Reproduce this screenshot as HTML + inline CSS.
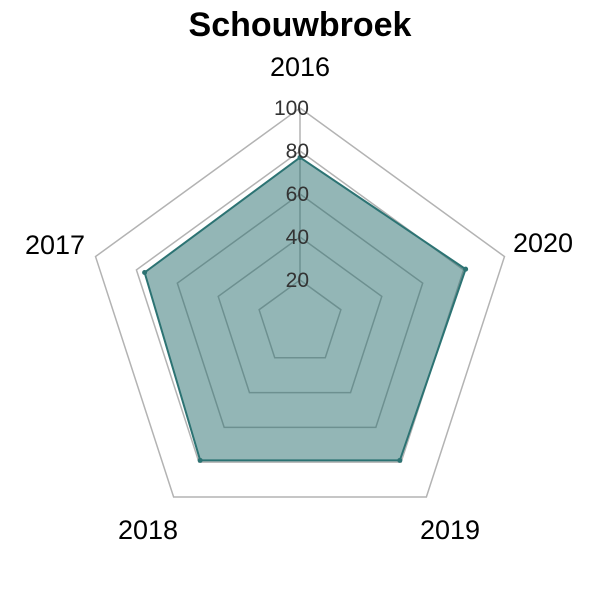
<!DOCTYPE html>
<html><head><meta charset="utf-8"><style>
body{margin:0;background:#fff}
svg{display:block;font-family:"Liberation Sans",sans-serif}
</style></head><body>
<svg id="chart" width="600" height="600">
<text x="300" y="36" text-anchor="middle" font-size="34" font-weight="bold" fill="#000">Schouwbroek</text>
<g id="grid"></g><g id="series"></g><g id="ticks"></g><g id="labels"></g>
</svg>
<script>
const categories=["2016","2020","2019","2018","2017"];
const values=[77,81,79,79,76];
const tickLabels=[20,40,60,80,100];
const cx=300,cy=323,R=215,maxV=100;
const NS="http://www.w3.org/2000/svg";
function ang(i){return -Math.PI/2+i*2*Math.PI/categories.length;}
function pt(i,v){const r=v/maxV*R;return [cx+r*Math.cos(ang(i)),cy+r*Math.sin(ang(i))];}
function mk(tag,attrs,parent){const e=document.createElementNS(NS,tag);for(const k in attrs)e.setAttribute(k,attrs[k]);parent.appendChild(e);return e;}
const grid=document.getElementById('grid'),ser=document.getElementById('series'),tk=document.getElementById('ticks'),lb=document.getElementById('labels');
tickLabels.forEach(t=>{
 const p=mk('polygon',{points:categories.map((c,i)=>pt(i,t).join(',')).join(' '),fill:'none',stroke:'#b3b3b3','stroke-width':1.5},grid);
 
 
});
const ax=mk('line',{x1:pt(0,tickLabels[0])[0],y1:pt(0,tickLabels[0])[1],x2:pt(0,maxV)[0],y2:pt(0,maxV)[1],stroke:'#b3b3b3','stroke-width':1.5},grid);


const poly=mk('polygon',{points:values.map((v,i)=>pt(i,v).join(',')).join(' '),fill:'rgba(40,110,110,0.5)',stroke:'#2c7373','stroke-width':2},ser);


values.forEach((v,i)=>{const p=pt(i,v);const c=mk('circle',{cx:p[0],cy:p[1],r:2.5,fill:'#2c7373'},ser);
 
 });
tickLabels.forEach(t=>{const p=pt(0,t);const e=mk('text',{x:p[0]+9,y:p[1]+7,'text-anchor':'end','font-size':21,fill:'#333'},tk);e.textContent=t;
 
 });
const lpos=[[300,76],[543,252],[450,539],[148,539],[55,254]];
categories.forEach((c,i)=>{const e=mk('text',{x:lpos[i][0],y:lpos[i][1],'text-anchor':'middle','font-size':27,fill:'#000'},lb);e.textContent=c;
 
 });
</script>
</body></html>
